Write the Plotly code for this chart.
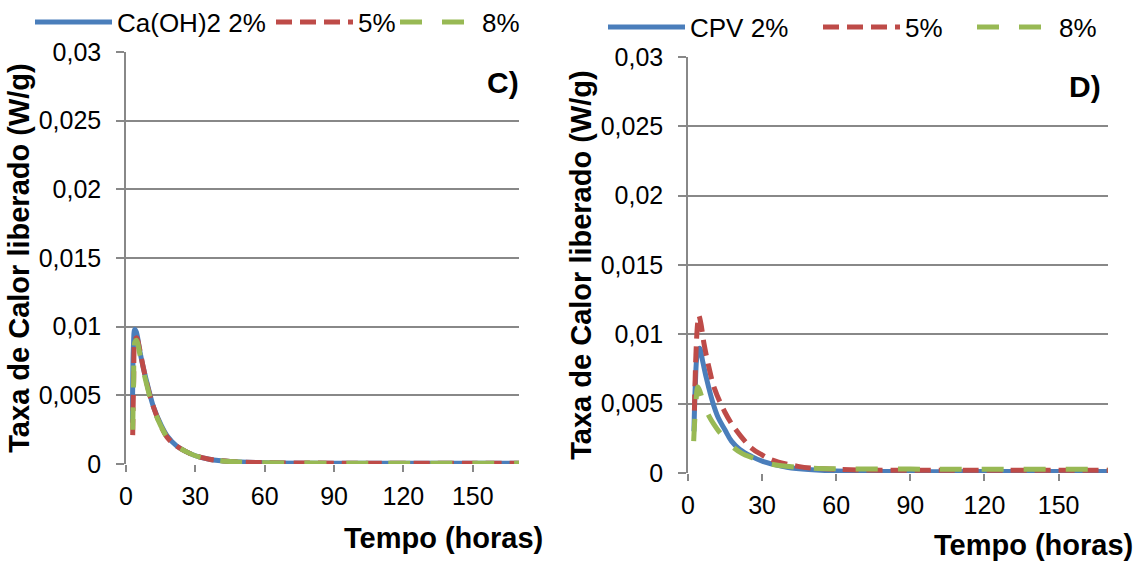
import plotly.graph_objects as go

# ---------------- data ----------------
# Panel C: Ca(OH)2
c_t_2 = [2.8, 3.2, 3.8, 4.5, 6, 7.5, 10, 12, 15, 18, 22, 26, 30, 36, 45, 60, 90, 120, 150, 170]
c_v_2 = [0.0030, 0.0085, 0.0098, 0.0096, 0.0082, 0.0070, 0.0053, 0.0041, 0.0029, 0.0020, 0.0013,
         0.0009, 0.0006, 0.00035, 0.00018, 0.0001, 0.00006, 0.00005, 0.00005, 0.00005]
c_t_5 = [2.9, 3.3, 3.9, 4.6, 6, 7.5, 10, 12, 15, 18, 22, 26, 30, 36, 45, 60, 90, 120, 150, 170]
c_v_5 = [0.0021, 0.0060, 0.0090, 0.0092, 0.0083, 0.0070, 0.0052, 0.0041, 0.0028, 0.0019, 0.0013,
         0.0009, 0.0006, 0.00035, 0.00018, 0.0001, 0.00006, 0.00005, 0.00005, 0.00005]
c_t_8 = [2.9, 3.3, 3.9, 4.6, 6, 7.5, 10, 12, 15, 18, 22, 26, 30, 36, 45, 60, 90, 120, 150, 170]
c_v_8 = [0.0025, 0.0060, 0.0089, 0.0090, 0.0080, 0.0068, 0.0051, 0.0040, 0.0028, 0.0019, 0.0013,
         0.0009, 0.0006, 0.00035, 0.00018, 0.0001, 0.00006, 0.00005, 0.00005, 0.00005]

# Panel D: CPV
d_t_2 = [2.4, 3.0, 3.7, 4.7, 6, 7.5, 10, 12.2, 15, 17.6, 21, 25.7, 30, 35, 40, 48.8, 60, 90, 120, 170]
d_v_2 = [0.0030, 0.0065, 0.0085, 0.0090, 0.0080, 0.0068, 0.0051, 0.0040, 0.0031, 0.0023, 0.0017,
         0.0012, 0.00085, 0.0006, 0.00042, 0.00025, 0.00015, 0.0001, 0.0001, 0.0001]
d_t_5 = [2.6, 3.2, 3.9, 4.4, 5.2, 6.5, 8.5, 10.7, 14.9, 19, 25.7, 30, 33.8, 44.5, 55, 70, 100, 130, 170]
d_v_5 = [0.0045, 0.0085, 0.0108, 0.01135, 0.0108, 0.0093, 0.0076, 0.0061, 0.0044, 0.0032, 0.0018,
         0.0013, 0.00096, 0.00048, 0.0003, 0.00022, 0.0002, 0.0002, 0.0002]
d_t_8 = [2.3, 3.0, 4.0, 5.0, 6.5, 8.5, 10.5, 12.5, 15, 18, 22, 26, 30, 35, 42, 50, 60, 90, 120, 170]
d_v_8 = [0.0023, 0.0045, 0.0062, 0.0058, 0.0049, 0.0041, 0.0035, 0.0030, 0.0025, 0.0019, 0.0014,
         0.0011, 0.0008, 0.0006, 0.00045, 0.00035, 0.0003, 0.00028, 0.00027, 0.00027]

y_tickvals = [0, 0.005, 0.01, 0.015, 0.02, 0.025, 0.03]
y_ticktext = ["0", "0,005", "0,01", "0,015", "0,02", "0,025", "0,03"]
x_tickvals = [0, 30, 60, 90, 120, 150]

names_c = ["Ca(OH)2 2%", "5%", "8%"]
names_d = ["CPV 2%", "5%", "8%"]
panel_labels = ["C)", "D)"]
y_title = "Taxa de Calor liberado (W/g)"
x_title = "Tempo (horas)"

# ---------------- styles ----------------
BLUE = "#4a7ebb"
RED = "#be4b48"
GREEN = "#98b954"
FONT = "Arial, Liberation Sans, sans-serif"
GRID = "#888888"
W, H = 1141, 561

styles = [
    dict(color=BLUE, width=5, dash="solid"),
    dict(color=RED, width=5, dash="16px,8px"),
    dict(color=GREEN, width=5, dash="22px,20px"),
]

# legend entry positions (px: left edge of symbol, vertical centre)
leg_pos_c = [(42, 22), (283, 22), (407, 22)]
leg_pos_d = [(615, 27), (830, 27), (984, 27)]

fig = go.Figure()
legend_ids = []
k = 0
for series, names, xa, ya, pos in [
    ([(c_t_2, c_v_2), (c_t_5, c_v_5), (c_t_8, c_v_8)], names_c, "x", "y", leg_pos_c),
    ([(d_t_2, d_v_2), (d_t_5, d_v_5), (d_t_8, d_v_8)], names_d, "x2", "y2", leg_pos_d),
]:
    for (t, v), name, st, p in zip(series, names, styles, pos):
        k += 1
        lid = "legend" if k == 1 else "legend%d" % k
        legend_ids.append((lid, p))
        fig.add_trace(go.Scatter(x=t, y=v, mode="lines", name=name,
                                 line=dict(shape="spline", **st),
                                 xaxis=xa, yaxis=ya, legend=lid))

# panel domains (pixels -> paper)
L = dict(x0=126, x1=519, ytop=52, ybot=464)
R = dict(x0=688, x1=1108, ytop=57, ybot=473)

def xdom(p):
    return [p["x0"] / W, p["x1"] / W]

def ydom(p):
    return [(H - p["ybot"]) / H, (H - p["ytop"]) / H]

tickfont = dict(family=FONT, size=25, color="#000000")

def xaxis(dom, anchor):
    return dict(domain=dom, anchor=anchor, range=[0, 170], tickvals=x_tickvals,
                showgrid=False, zeroline=False, showline=False,
                ticks="outside", ticklen=7, tickwidth=1.5, tickcolor=GRID,
                tickfont=tickfont, ticklabelstandoff=3, fixedrange=True)

def yaxis(dom, anchor):
    return dict(domain=dom, anchor=anchor, range=[0, 0.03], tickvals=y_tickvals, ticktext=y_ticktext,
                showgrid=True, gridcolor=GRID, gridwidth=1.5, zeroline=False,
                showline=True, linecolor=GRID, linewidth=1.5,
                ticks="outside", ticklen=8, tickwidth=1.5, tickcolor=GRID,
                tickfont=tickfont, ticklabelstandoff=10,
                title=dict(text="<b>" + y_title + "</b>",
                           font=dict(family=FONT, size=29, color="#000000"), standoff=1),
                fixedrange=True)

legend_common = dict(orientation="h", xanchor="left", yanchor="middle", bgcolor="rgba(0,0,0,0)",
                     font=dict(family=FONT, size=26, color="#000000"), itemwidth=77,
                     tracegroupgap=0)

layout_legends = {}
for lid, (px, py) in legend_ids:
    layout_legends[lid] = dict(x=(px - 12) / W, y=1 - py / H, **legend_common)

fig.update_layout(
    width=W, height=H,
    margin=dict(l=0, r=0, t=0, b=0, autoexpand=False),
    paper_bgcolor="white", plot_bgcolor="white",
    xaxis=xaxis(xdom(L), "y"),
    yaxis=yaxis(ydom(L), "x"),
    xaxis2=xaxis(xdom(R), "y2"),
    yaxis2=yaxis(ydom(R), "x2"),
    showlegend=True,
    annotations=[
        dict(text="<b>" + x_title + "</b>", x=545 / W, y=1 - 538 / H, xref="paper", yref="paper",
             xanchor="right", yanchor="middle", showarrow=False,
             font=dict(family=FONT, size=29, color="#000000")),
        dict(text="<b>" + x_title + "</b>", x=1135 / W, y=1 - 545 / H, xref="paper", yref="paper",
             xanchor="right", yanchor="middle", showarrow=False,
             font=dict(family=FONT, size=29, color="#000000")),
        dict(text="<b>" + panel_labels[0] + "</b>", x=521 / W, y=1 - 82 / H, xref="paper", yref="paper",
             xanchor="right", yanchor="middle", showarrow=False,
             font=dict(family=FONT, size=30, color="#000000")),
        dict(text="<b>" + panel_labels[1] + "</b>", x=1103 / W, y=1 - 87 / H, xref="paper", yref="paper",
             xanchor="right", yanchor="middle", showarrow=False,
             font=dict(family=FONT, size=30, color="#000000")),
    ],
    **layout_legends,
)

fig.write_html("out.html", config=dict(displayModeBar=False))
